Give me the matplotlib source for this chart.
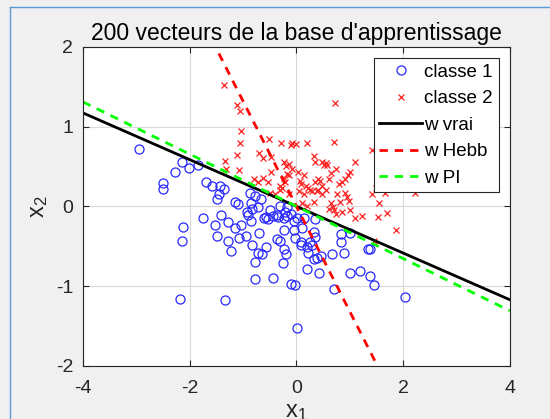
import numpy as np
import matplotlib
matplotlib.use("Agg")
import matplotlib.pyplot as plt
from matplotlib.lines import Line2D

plt.rcParams['font.family'] = ['Liberation Sans', 'DejaVu Sans']
plt.rcParams['axes.unicode_minus'] = False

### data
classe1_x = [-2.95, -2.15, -2.28, -2.02, -1.84, -2.50, -2.51, -1.70, -1.59, -1.44,
             -1.36, -1.46, -1.48, -1.16, -1.10, -0.88, -0.78, -0.67, -0.86, -0.83,
             -0.73, -0.93, -0.90, -0.86, -0.49, -0.60, -0.54, -0.44, -0.57, -0.34,
             -0.31, -0.21, -0.17, -0.11, -0.23, 0.01, 0.15, 0.35, -1.41, -1.75,
             -1.52, -1.28, -1.16, -1.03, -1.49, -1.28, -1.23, -1.08, -0.94, -0.83,
             -0.70, -0.72, -0.64, -0.57, -0.78, -0.78, -0.44, -0.37, -0.31, -0.24,
             -0.23, -0.19, -0.25, -0.04, -0.03, 0.09, 0.10, 0.08, 0.19, 0.22,
             0.25, 0.30, 0.32, 0.34, 0.32, 0.38, 0.46, 0.19, 0.42, -0.11,
             -0.02, 0.01, -2.19, -1.34, -2.13, -2.15, 0.67, 0.70, 0.84, 0.83,
             0.89, 1.00, 1.00, 1.19, 1.35, 1.37, 1.37, 1.45, 2.03, -0.37,
             -0.04, -0.17]
classe1_y = [0.72, 0.56, 0.43, 0.48, 0.52, 0.29, 0.22, 0.31, 0.26, 0.25,
             0.22, 0.16, 0.09, 0.06, 0.03, 0.17, 0.13, 0.09, 0.04, -0.03,
             -0.01, -0.07, -0.11, -0.18, -0.05, -0.14, -0.16, -0.12, -0.13, -0.13,
             0.01, -0.07, -0.12, -0.10, -0.14, -0.14, -0.15, -0.16, -0.11, -0.15,
             -0.23, -0.19, -0.27, -0.23, -0.37, -0.44, -0.56, -0.40, -0.37, -0.49,
             -0.33, -0.58, -0.60, -0.51, -0.70, -0.91, -0.90, -0.41, -0.43, -0.29,
             -0.53, -0.60, -0.71, -0.29, -0.40, -0.45, -0.27, -0.49, -0.51, -0.58,
             -0.45, -0.48, -0.32, -0.38, -0.66, -0.65, -0.62, -0.79, -0.84, -0.97,
             -0.98, -1.53, -1.16, -1.17, -0.26, -0.43, -0.60, -1.03, -0.35, -0.45,
             -0.58, -0.33, -0.84, -0.81, -0.54, -0.54, -0.87, -0.98, -1.13, -0.11,
             -0.18, -0.01]

classe2_x = [-1.36, -1.12, -1.05, -1.04, -1.06, -1.11, -1.34, -1.32, -1.07, -0.71,
             -0.52, -0.62, -0.47, -0.47, -0.50, -0.80, -0.62, -0.31, -0.27, -0.29,
             -0.23, -0.19, -0.17, -0.14, -0.23, -0.21, -0.11, -0.08, -0.01, 0.19,
             -0.14, -0.14, 0.02, 0.07, 0.09, 0.14, 0.17, 0.25, 0.29, 0.35,
             0.34, 0.33, 0.38, 0.40, 0.47, 0.48, 0.52, 0.55, 0.58, 0.40,
             0.45, 0.65, 0.71, 0.73, 0.80, 0.86, 0.91, 0.97, 1.01, 1.09,
             0.76, 0.91, 0.94, 0.98, 0.81, 0.65, 0.68, 0.61, 0.71, 0.75,
             0.86, 1.01, 1.09, 1.22, 1.42, 1.42, 1.50, 1.55, 1.53, 1.70,
             1.86, 1.66, 2.23, 1.46, 0.10, 0.19, 0.32, 0.48, 0.55, -0.40,
             -0.31, -0.54, -0.73, -0.08, 0.05, 0.15, 0.61, 0.75, 0.22]
classe2_y = [1.52, 1.27, 1.19, 0.95, 0.80, 0.64, 0.57, 0.47, 0.46, 0.67,
             0.84, 0.61, 0.62, 0.43, 0.17, 0.34, 0.36, 0.21, 0.23, 0.79,
             0.56, 0.50, 0.41, 0.39, 0.35, 0.30, 0.77, 0.80, 0.78, 0.79,
             0.53, 0.15, 0.43, 0.32, 0.28, 0.39, 0.25, 0.21, 0.19, 0.30,
             0.56, 0.63, 0.19, 0.21, 0.25, 0.55, 0.52, 0.54, 0.52, 0.34,
             0.32, 0.42, 0.81, 1.30, 0.28, 0.30, 0.34, 0.39, 0.43, 0.55,
             0.15, 0.17, 0.12, 0.07, 0.06, 0.04, -0.01, -0.03, -0.04, -0.10,
             -0.07, -0.05, -0.14, -0.12, 0.71, 0.15, 0.23, 0.04, -0.13, -0.08,
             -0.29, 0.17, 0.17, -0.43, 0.04, 0.01, 0.06, 0.15, 0.21, 0.15,
             0.25, 0.30, 0.30, 0.47, 0.19, 0.15, 0.34, 0.47, 0.23]

# separating lines w1*x1 + w2*x2 = 0
w_vrai = [0.2925, 1.0]
w_hebb = [1.317, 1.0]
w_pi = [0.327, 1.0]

legend_labels = ['classe 1', 'classe 2', 'w vrai', 'w Hebb', 'w PI']

### plotting
fig = plt.figure(figsize=(5.5, 4.19), dpi=100, facecolor='#f0f0f0')
ax = fig.add_axes([0.151, 0.1265, 0.776, 0.762])
ax.set_facecolor('white')

ax.plot(classe1_x, classe1_y, 'o', mfc='none', mec='#2828ff', ms=6.5, mew=0.9,
        label=legend_labels[0])
ax.plot(classe2_x, classe2_y, 'x', color='#ff2020', ms=4.5, mew=0.9,
        label=legend_labels[1])

xs = np.array([-4.0, 4.0])
ax.plot(xs, -w_vrai[0] / w_vrai[1] * xs, '-', color='black', lw=2, label=legend_labels[2])
ax.plot(xs, -w_hebb[0] / w_hebb[1] * xs, '--', color='#ff0000', lw=2,
        dashes=(3, 2.5), label=legend_labels[3])
ax.plot(xs, -w_pi[0] / w_pi[1] * xs, '--', color='#00ff00', lw=2,
        dashes=(3, 2.5), label=legend_labels[4])

ax.set_xlim(-4, 4)
ax.set_ylim(-2, 2)
ax.set_xticks([-4, -2, 0, 2, 4])
ax.set_yticks([-2, -1, 0, 1, 2])
ax.grid(True, color='#d9d9d9', lw=0.8)
ax.set_axisbelow(True)
ax.tick_params(direction='in', length=4, colors='#262626', labelsize=14, top=True, right=True,
               labeltop=False, labelright=False)
ax.tick_params(axis='x', pad=10)
ax.tick_params(axis='y', pad=7)
for s in ax.spines.values():
    s.set_color('#262626')
    s.set_linewidth(0.8)

ax.set_title("200 vecteurs de la base d'apprentissage", fontsize=16.5, color='black', pad=5)
ax.set_xlabel(r'$\mathregular{x_1}$', fontsize=17, color='#262626', labelpad=3)
ax.set_ylabel(r'$\mathregular{x_2}$', fontsize=17, color='#262626', labelpad=4)

leg = ax.legend(loc='upper right', fontsize=13.5, fancybox=False, framealpha=1,
                edgecolor='#262626', borderaxespad=0.6, handlelength=2.3,
                handletextpad=0.1, borderpad=0.3, labelspacing=0.5)
leg.get_frame().set_linewidth(0.8)

# window border
fig.add_artist(Line2D([0.019, 0.019], [0, 0.983], color='#5a9bd5', lw=1, transform=fig.transFigure))
fig.add_artist(Line2D([0.019, 1], [0.983, 0.983], color='#5a9bd5', lw=1, transform=fig.transFigure))

fig.savefig('out.png', dpi=100, facecolor=fig.get_facecolor())
